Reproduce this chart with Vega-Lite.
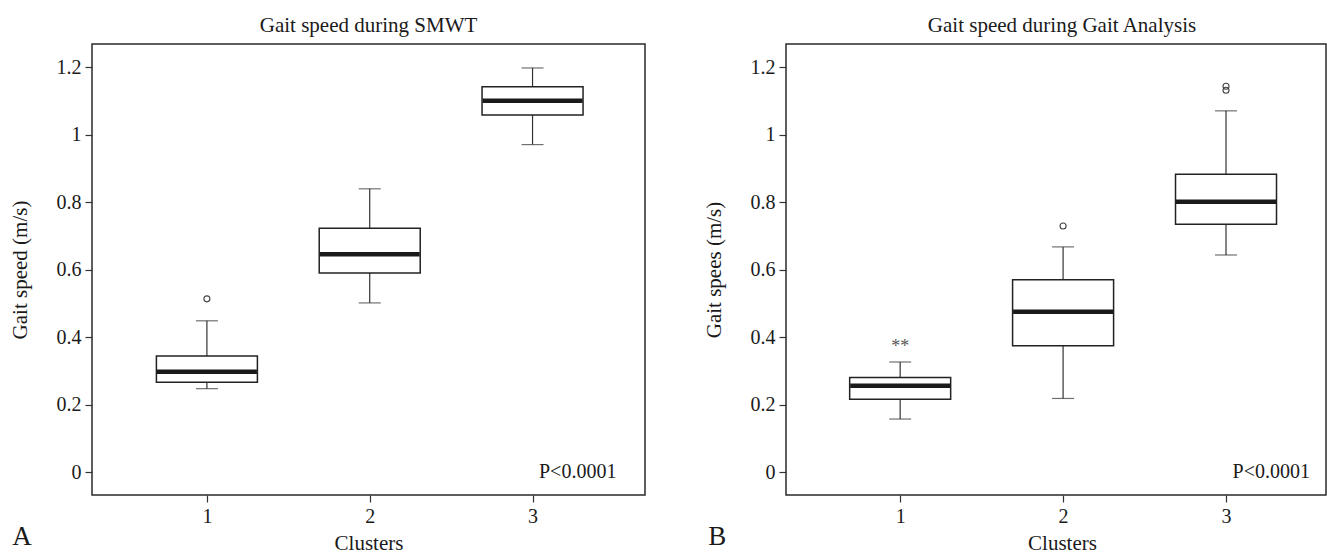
{
  "$schema": "https://vega.github.io/schema/vega-lite/v6.json",
  "padding": {"left": 8, "top": 14, "right": 0, "bottom": 0},
  "background": "white",
  "spacing": 56,
  "config": {
    "font": "Liberation Serif",
    "view": {"stroke": "#2a2a2a", "strokeWidth": 1.5},
    "text": {"font": "Liberation Serif"},
    "axis": {
      "domain": false,
      "grid": false,
      "tickColor": "#333333",
      "tickSize": 7,
      "tickWidth": 1.2,
      "labelFont": "Liberation Serif",
      "labelFontSize": 20,
      "labelColor": "#1a1a1a",
      "labelPadding": 4,
      "titleFont": "Liberation Serif",
      "titleFontSize": 21,
      "titleFontWeight": "normal",
      "titleColor": "#1a1a1a"
    },
    "title": {"fontWeight": "normal", "color": "#1a1a1a", "font": "Liberation Serif"}
  },
  "datasets": {
    "smwt_box": [
      {"cluster": 1, "lower": 0.248, "q1": 0.267, "median": 0.298, "q3": 0.345, "upper": 0.449},
      {"cluster": 2, "lower": 0.502, "q1": 0.591, "median": 0.646, "q3": 0.723, "upper": 0.840},
      {"cluster": 3, "lower": 0.971, "q1": 1.059, "median": 1.101, "q3": 1.142, "upper": 1.198}
    ],
    "smwt_out": [
      {"cluster": 1, "value": 0.514}
    ],
    "gait_box": [
      {"cluster": 1, "lower": 0.158, "q1": 0.217, "median": 0.257, "q3": 0.281, "upper": 0.327},
      {"cluster": 2, "lower": 0.219, "q1": 0.375, "median": 0.476, "q3": 0.571, "upper": 0.668},
      {"cluster": 3, "lower": 0.644, "q1": 0.735, "median": 0.802, "q3": 0.883, "upper": 1.071}
    ],
    "gait_out": [
      {"cluster": 2, "value": 0.730},
      {"cluster": 3, "value": 1.132},
      {"cluster": 3, "value": 1.144}
    ],
    "gait_ext": [
      {"cluster": 1, "value": 0.380, "symbol": "**"}
    ],
    "pnote": [
      {"label": "P<0.0001"}
    ]
  },
  "hconcat": [
    {
      "title": {"text": "A", "orient": "bottom", "anchor": "start", "frame": "bounds", "fontSize": 27, "offset": -30, "dx": 4},
      "vconcat": [
        {
          "title": {"text": "Gait speed during SMWT", "fontSize": 21, "offset": 8},
          "width": 553,
          "height": 451,
          "layer": [
            {
              "data": {"name": "smwt_box"},
              "mark": {"type": "rule", "color": "#333333", "strokeWidth": 1.2},
              "encoding": {
                "x": {"field": "cluster", "type": "quantitative", "scale": {"domain": [0.325, 3.66], "nice": false, "zero": false}, "axis": {"values": [1, 2, 3], "format": "d", "title": "Clusters", "titlePadding": 6, "labelFont": "Liberation Serif", "titleFont": "Liberation Serif", "labelFontSize": 20, "titleFontSize": 21}},
                "y": {"field": "lower", "type": "quantitative", "scale": {"domain": [-0.067, 1.269], "nice": false, "zero": false}, "axis": {"values": [0, 0.2, 0.4, 0.6, 0.8, 1, 1.2], "format": "~g", "title": "Gait speed (m/s)", "titlePadding": 26, "labelFont": "Liberation Serif", "titleFont": "Liberation Serif", "labelFontSize": 20, "titleFontSize": 21}},
                "y2": {"field": "upper"}
              }
            },
            {
              "data": {"name": "smwt_box"},
              "mark": {"type": "tick", "orient": "horizontal", "size": 22, "thickness": 1.2, "color": "#333333"},
              "encoding": {
                "x": {"field": "cluster", "type": "quantitative"},
                "y": {"field": "lower", "type": "quantitative"}
              }
            },
            {
              "data": {"name": "smwt_box"},
              "mark": {"type": "tick", "orient": "horizontal", "size": 22, "thickness": 1.2, "color": "#333333"},
              "encoding": {
                "x": {"field": "cluster", "type": "quantitative"},
                "y": {"field": "upper", "type": "quantitative"}
              }
            },
            {
              "data": {"name": "smwt_box"},
              "mark": {"type": "bar", "size": 101, "fill": "white", "stroke": "#222222", "strokeWidth": 1.5},
              "encoding": {
                "x": {"field": "cluster", "type": "quantitative"},
                "y": {"field": "q1", "type": "quantitative"},
                "y2": {"field": "q3"}
              }
            },
            {
              "data": {"name": "smwt_box"},
              "mark": {"type": "tick", "orient": "horizontal", "size": 100, "thickness": 4.5, "color": "#1a1a1a", "opacity": 1},
              "encoding": {
                "x": {"field": "cluster", "type": "quantitative"},
                "y": {"field": "median", "type": "quantitative"}
              }
            },
            {
              "data": {"name": "smwt_out"},
              "mark": {"type": "point", "shape": "circle", "filled": false, "size": 36, "stroke": "#444444", "strokeWidth": 1.1, "opacity": 1},
              "encoding": {
                "x": {"field": "cluster", "type": "quantitative"},
                "y": {"field": "value", "type": "quantitative"}
              }
            },
            {
              "data": {"name": "pnote"},
              "mark": {"type": "text", "align": "right", "baseline": "middle", "fontSize": 20, "color": "#1a1a1a", "font": "Liberation Serif"},
              "encoding": {
                "x": {"datum": 3.515, "type": "quantitative"},
                "y": {"datum": 0, "type": "quantitative"},
                "text": {"field": "label"}
              }
            }
          ]
        }
      ]
    },
    {
      "title": {"text": "B", "orient": "bottom", "anchor": "start", "frame": "bounds", "fontSize": 27, "offset": -30, "dx": 6},
      "vconcat": [
        {
          "title": {"text": "Gait speed during Gait Analysis", "fontSize": 21, "offset": 8, "dx": 6},
          "width": 540,
          "height": 451,
          "layer": [
            {
              "data": {"name": "gait_box"},
              "mark": {"type": "rule", "color": "#333333", "strokeWidth": 1.2},
              "encoding": {
                "x": {"field": "cluster", "type": "quantitative", "scale": {"domain": [0.33, 3.583], "nice": false, "zero": false}, "axis": {"values": [1, 2, 3], "format": "d", "title": "Clusters", "titlePadding": 6, "titleX": 276, "labelFont": "Liberation Serif", "titleFont": "Liberation Serif", "labelFontSize": 20, "titleFontSize": 21}},
                "y": {"field": "lower", "type": "quantitative", "scale": {"domain": [-0.067, 1.269], "nice": false, "zero": false}, "axis": {"values": [0, 0.2, 0.4, 0.6, 0.8, 1, 1.2], "format": "~g", "title": "Gait spees (m/s)", "titlePadding": 26, "labelFont": "Liberation Serif", "titleFont": "Liberation Serif", "labelFontSize": 20, "titleFontSize": 21}},
                "y2": {"field": "upper"}
              }
            },
            {
              "data": {"name": "gait_box"},
              "mark": {"type": "tick", "orient": "horizontal", "size": 22, "thickness": 1.2, "color": "#333333"},
              "encoding": {
                "x": {"field": "cluster", "type": "quantitative"},
                "y": {"field": "lower", "type": "quantitative"}
              }
            },
            {
              "data": {"name": "gait_box"},
              "mark": {"type": "tick", "orient": "horizontal", "size": 22, "thickness": 1.2, "color": "#333333"},
              "encoding": {
                "x": {"field": "cluster", "type": "quantitative"},
                "y": {"field": "upper", "type": "quantitative"}
              }
            },
            {
              "data": {"name": "gait_box"},
              "mark": {"type": "bar", "size": 101, "fill": "white", "stroke": "#222222", "strokeWidth": 1.5},
              "encoding": {
                "x": {"field": "cluster", "type": "quantitative"},
                "y": {"field": "q1", "type": "quantitative"},
                "y2": {"field": "q3"}
              }
            },
            {
              "data": {"name": "gait_box"},
              "mark": {"type": "tick", "orient": "horizontal", "size": 100, "thickness": 4.5, "color": "#1a1a1a", "opacity": 1},
              "encoding": {
                "x": {"field": "cluster", "type": "quantitative"},
                "y": {"field": "median", "type": "quantitative"}
              }
            },
            {
              "data": {"name": "gait_out"},
              "mark": {"type": "point", "shape": "circle", "filled": false, "size": 36, "stroke": "#444444", "strokeWidth": 1.1, "opacity": 1},
              "encoding": {
                "x": {"field": "cluster", "type": "quantitative"},
                "y": {"field": "value", "type": "quantitative"}
              }
            },
            {
              "data": {"name": "gait_ext"},
              "mark": {"type": "text", "align": "center", "baseline": "middle", "fontSize": 18, "color": "#555555", "dy": 3, "font": "Liberation Serif"},
              "encoding": {
                "x": {"field": "cluster", "type": "quantitative"},
                "y": {"field": "value", "type": "quantitative"},
                "text": {"field": "symbol"}
              }
            },
            {
              "data": {"name": "pnote"},
              "mark": {"type": "text", "align": "right", "baseline": "middle", "fontSize": 20, "color": "#1a1a1a", "font": "Liberation Serif"},
              "encoding": {
                "x": {"datum": 3.515, "type": "quantitative"},
                "y": {"datum": 0, "type": "quantitative"},
                "text": {"field": "label"}
              }
            }
          ]
        }
      ]
    }
  ]
}
